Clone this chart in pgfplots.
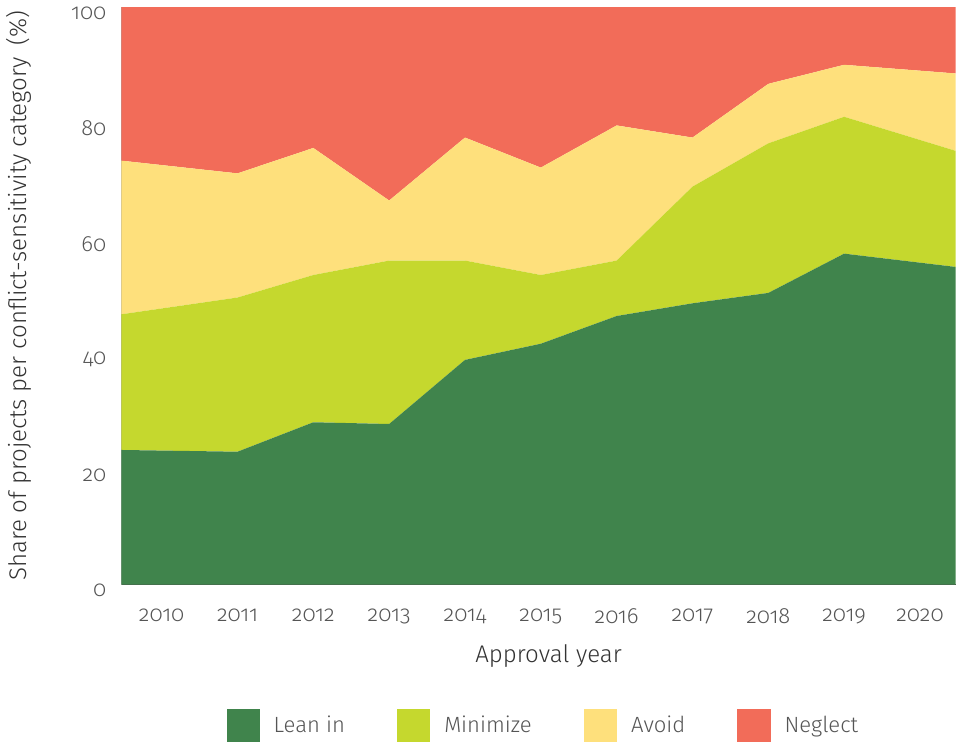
\documentclass[border=0pt]{standalone}
\usepackage{fontspec}
\setmainfont{Fira Sans}[UprightFont=* Light, Numbers=OldStyle]
\usepackage{pgfplots}
\pgfplotsset{compat=1.18}

\definecolor{leanin}{RGB}{64,132,76}
\definecolor{minimize}{RGB}{197,216,46}
\definecolor{avoid}{RGB}{254,224,124}
\definecolor{neglect}{RGB}{242,108,89}
\definecolor{txt}{RGB}{85,85,85}

\begin{document}
\begin{tikzpicture}
  \begin{axis}[
      scale only axis,
      width=416pt, height=288pt,
      xmin=2009.47, xmax=2020.47,
      ymin=0, ymax=100,
      stack plots=y,
      axis x line*=bottom,
      axis y line*=left,
      x axis line style={draw=black!70, -},
      y axis line style={draw=black!35, -},
      major tick length=0pt,
      xtick={2010,2011,2012,2013,2014,2015,2016,2017,2018,2019,2020},
      xticklabels={2010,2011,2012,2013,2014,2015,2016,2017,2018,2019,2020},
      ytick={0,20,40,60,80,100},
      yticklabels={0,20,40,60,80,100},
      xticklabel style={font=\fontsize{11}{13}\selectfont, text=txt, yshift=-8.5pt},
      yticklabel style={font=\fontsize{11}{13}\selectfont, text=txt, anchor=east, xshift=-4pt, yshift=-3pt},
      xlabel={Approval year},
      xlabel style={font=\fontsize{12}{14}\selectfont, text=black!80, at={(rel axis cs:0.512,0)}, anchor=north, yshift=-26.5pt},
      ylabel={Share of projects per conflict-sensitivity category\enspace(\%)},
      ylabel style={font=\fontsize{12}{14}\selectfont, text=black!80, at={(rel axis cs:0,0.5)}, anchor=center, yshift=51pt},
      legend style={at={(0.507,0)}, anchor=north, yshift=-60pt, draw=none,
                    font=\fontsize{11}{13}\selectfont, text=txt,
                    /tikz/every odd column/.append style={column sep=5pt},
                    /tikz/every even column/.append style={column sep=24pt}},
      legend columns=4,
      legend image code/.code={\fill[#1] (0pt,-8.25pt) rectangle (16.5pt,8.25pt);},
    ]
    \addplot[fill=leanin, draw=none] coordinates {
      (2009.47,23.3) (2011,23.0) (2012,28.1) (2013,27.8) (2014,38.9) (2015,41.7)
      (2016,46.5) (2017,48.7) (2018,50.5) (2019,57.3) (2020.47,55.0)} \closedcycle;
    \addplot[fill=minimize, draw=none] coordinates {
      (2009.47,23.5) (2011,26.7) (2012,25.5) (2013,28.3) (2014,17.2) (2015,11.9)
      (2016,9.6) (2017,20.2) (2018,25.9) (2019,23.7) (2020.47,20.1)} \closedcycle;
    \addplot[fill=avoid, draw=none] coordinates {
      (2009.47,26.6) (2011,21.5) (2012,22.0) (2013,10.4) (2014,21.3) (2015,18.6)
      (2016,23.4) (2017,8.5) (2018,10.3) (2019,9.0) (2020.47,13.4)} \closedcycle;
    \addplot[fill=neglect, draw=none] coordinates {
      (2009.47,26.6) (2011,28.8) (2012,24.4) (2013,33.5) (2014,22.6) (2015,27.8)
      (2016,20.5) (2017,22.6) (2018,13.3) (2019,10.0) (2020.47,11.5)} \closedcycle;
    \legend{Lean in, Minimize, Avoid, Neglect}
  \end{axis}
\end{tikzpicture}
\end{document}
